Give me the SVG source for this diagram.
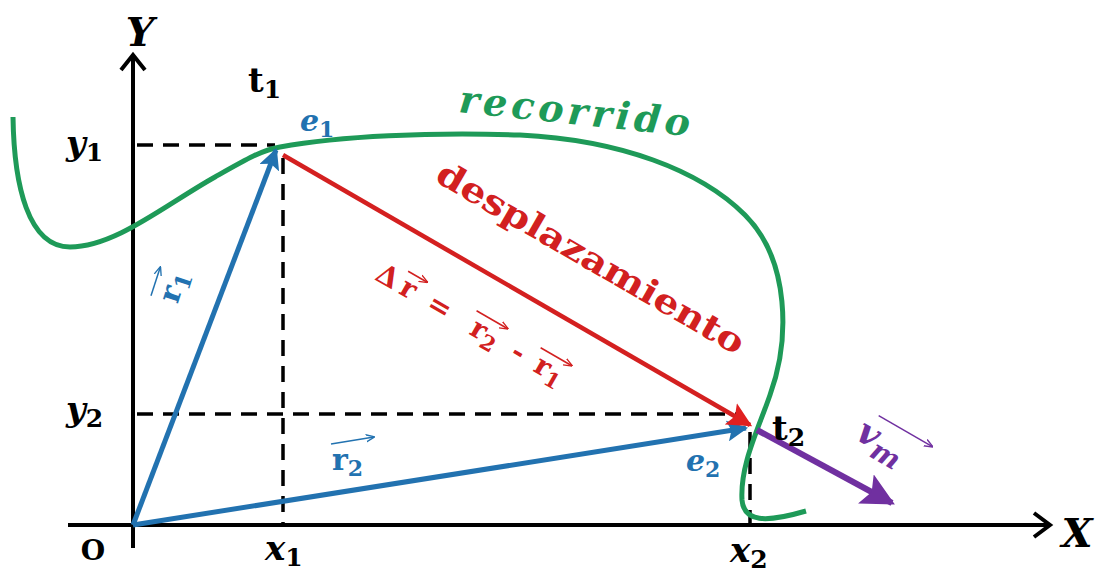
<svg xmlns="http://www.w3.org/2000/svg" width="1099" height="578" viewBox="0 0 1099 578">
<defs>
<style>
.ax{stroke:#000;stroke-width:4;fill:none}
.dash{stroke:#000;stroke-width:3.5;stroke-dasharray:16,10;fill:none}
.lbl{font-family:"DejaVu Serif","Liberation Serif",serif;font-weight:bold;font-style:italic}
.up{font-family:"DejaVu Serif","Liberation Serif",serif;font-weight:bold}
.blue{fill:#2272b0}
.red{fill:#d22020}
.green{fill:#1e9a58}
.purple{fill:#7030a0}
.ov{stroke-width:1.5;fill:none}
</style>
<marker id="ab" viewBox="0 0 10 10" refX="9" refY="5" markerWidth="4.2" markerHeight="4.2" orient="auto" markerUnits="strokeWidth"><path d="M0,0 L10,5 L0,10 L2,5 z" fill="#2272b0"/></marker>
<marker id="ar" viewBox="0 0 10 10" refX="9" refY="5" markerWidth="5.5" markerHeight="5.5" orient="auto" markerUnits="strokeWidth"><path d="M0,0 L10,5 L0,10 L2,5 z" fill="#e02020"/></marker>
<marker id="ap" viewBox="0 0 10 10" refX="9" refY="5" markerWidth="5.5" markerHeight="5.5" orient="auto" markerUnits="strokeWidth"><path d="M0,0 L10,5 L0,10 L2,5 z" fill="#7030a0"/></marker>
<marker id="sm" viewBox="0 0 10 10" refX="9" refY="5" markerWidth="6" markerHeight="6" orient="auto" markerUnits="strokeWidth"><path d="M0,1 L10,5 L0,9" fill="none" stroke="context-stroke" stroke-width="1.5"/></marker>
</defs>
<rect width="1099" height="578" fill="#fff"/>

<g id="axes">
<line class="ax" x1="133" y1="548" x2="133" y2="55"/>
<polyline class="ax" points="121,70 133,55 145,70"/>
<line class="ax" x1="68" y1="525" x2="1050" y2="525"/>
<polyline class="ax" points="1034,513 1050,525 1034,537"/>
<text class="lbl" x="140" y="46" font-size="40" text-anchor="middle">Y</text>
<text class="lbl" x="1077" y="547" font-size="40" text-anchor="middle">X</text>
<text class="up" x="93" y="560" font-size="28" text-anchor="middle">O</text>
</g>

<g id="guides">
<line class="dash" x1="137" y1="145" x2="275" y2="145"/>
<line class="dash" x1="283" y1="158" x2="283" y2="525"/>
<line class="dash" x1="137" y1="414" x2="742" y2="414"/>
<line class="dash" x1="750" y1="432" x2="750" y2="525"/>
<text class="lbl" x="66" y="155" font-size="34">y<tspan font-size="25" font-style="normal" dy="6">1</tspan></text>
<text class="lbl" x="66" y="421" font-size="34">y<tspan font-size="25" font-style="normal" dy="6">2</tspan></text>
<text class="lbl" x="265" y="560" font-size="34">x<tspan font-size="25" font-style="normal" dy="6">1</tspan></text>
<text class="lbl" x="730" y="562" font-size="34">x<tspan font-size="25" font-style="normal" dy="6">2</tspan></text>
</g>

<g id="recorrido">
<path d="M13,117 C14,185 28,247 70,247 C115,247 165,205 215,177 C245,160 262,150 280,147 C340,136 430,132 520,135 C620,140 700,170 745,215 C790,260 790,340 770,395 C758,430 740,465 742,500 C744,522 765,523 806,511" fill="none" stroke="#1e9a58" stroke-width="5"/>
<text class="lbl green" font-size="38" transform="translate(458,112) rotate(6)" textLength="232">recorrido</text>
</g>

<g id="connectors">
<line x1="133" y1="525" x2="276" y2="150" stroke="#2272b0" stroke-width="5" marker-end="url(#ab)"/>
<line x1="133" y1="525" x2="746" y2="428" stroke="#2272b0" stroke-width="5" marker-end="url(#ab)"/>
<line x1="283" y1="155" x2="750" y2="425" stroke="#d42020" stroke-width="4.5" marker-end="url(#ar)"/>
<line x1="757" y1="430" x2="892" y2="503" stroke="#7030a0" stroke-width="6" marker-end="url(#ap)"/>
</g>

<g id="p1">
<text class="up" x="248" y="92" font-size="34">t<tspan font-size="25" dy="6">1</tspan></text>
<text class="lbl blue" x="300" y="131" font-size="30">e<tspan font-size="22" font-style="normal" dy="6">1</tspan></text>
</g>

<g id="p2">
<text class="up" x="772" y="440" font-size="34">t<tspan font-size="25" dy="6">2</tspan></text>
<text class="lbl blue" x="686" y="471" font-size="30">e<tspan font-size="22" font-style="normal" dy="6">2</tspan></text>
</g>

<g id="r1" transform="translate(170,302) rotate(-72)">
<text class="up blue" x="0" y="8" font-size="30">r<tspan font-size="22" dy="6">1</tspan></text>
<line class="ov" x1="0" y1="-20" x2="30" y2="-20" stroke="#2272b0" marker-end="url(#sm)"/>
</g>

<g id="r2">
<text class="up blue" x="332" y="470" font-size="30">r<tspan font-size="22" dy="6">2</tspan></text>
<line class="ov" x1="331" y1="444" x2="374" y2="437" stroke="#2272b0" marker-end="url(#sm)"/>
</g>

<g id="desplazamiento">
<text class="up red" font-size="34" text-anchor="middle" transform="translate(585,268) rotate(30)" textLength="350" lengthAdjust="spacingAndGlyphs">desplazamiento</text>
</g>

<g id="formula" transform="translate(380,270) rotate(30)" font-size="28">
<text class="up red" x="10" y="11" text-anchor="middle">Δ</text>
<text class="up red" x="34" y="11" text-anchor="middle">r</text>
<line class="ov" x1="25" y1="-13" x2="47" y2="-13" stroke="#d22020" marker-end="url(#sm)"/>
<text class="up red" x="70" y="11" text-anchor="middle">=</text>
<text class="up red" x="108" y="11">r<tspan font-size="21" dy="6">2</tspan></text>
<line class="ov" x1="104" y1="-13" x2="140" y2="-13" stroke="#d22020" marker-end="url(#sm)"/>
<text class="up red" x="161" y="11" text-anchor="middle">-</text>
<text class="up red" x="182" y="11">r<tspan font-size="21" dy="6">1</tspan></text>
<line class="ov" x1="178" y1="-13" x2="214" y2="-13" stroke="#d22020" marker-end="url(#sm)"/>
</g>

<g id="vm" transform="translate(860,428) rotate(30)">
<text class="lbl purple" x="0" y="12" font-size="36">v<tspan font-size="28" dy="8">m</tspan></text>
<line class="ov" x1="10" y1="-20" x2="72" y2="-20" stroke="#7030a0" marker-end="url(#sm)"/>
</g>
</svg>
